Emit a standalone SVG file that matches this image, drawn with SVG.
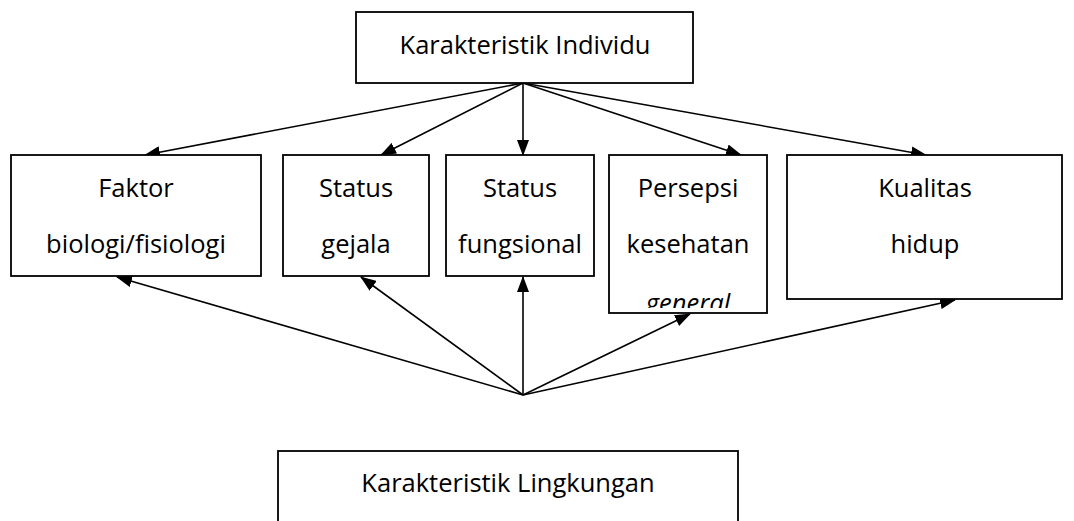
<svg xmlns="http://www.w3.org/2000/svg" width="1074" height="521" viewBox="0 0 1074 521">
<style>
.box{fill:#fff;stroke:#000;stroke-width:1.8}
.t{font-family:"Open Sans","Liberation Sans",sans-serif;font-size:25.5px;fill:#000;text-anchor:middle}
.c{stroke:#000;stroke-width:1.6;fill:none;marker-end:url(#ah)}
</style>
<defs>
<marker id="ah" markerUnits="userSpaceOnUse" markerWidth="16" markerHeight="12" refX="15" refY="6" orient="auto">
<path d="M0,0 L16,6 L0,12 Z" fill="#000"/>
</marker>
<clipPath id="clipP"><rect x="609" y="155" width="158" height="153"/></clipPath>
</defs>
<rect width="1074" height="521" fill="#fff"/>
<g id="connectors">
<line class="c" x1="523" y1="83" x2="145" y2="155"/>
<line class="c" x1="523" y1="83" x2="381" y2="155"/>
<line class="c" x1="523" y1="83" x2="523" y2="155"/>
<line class="c" x1="523" y1="83" x2="741" y2="155"/>
<line class="c" x1="523" y1="83" x2="926" y2="155"/>
<line class="c" x1="523" y1="395" x2="117" y2="277"/>
<line class="c" x1="523" y1="395" x2="361" y2="277"/>
<line class="c" x1="523" y1="395" x2="523" y2="277"/>
<line class="c" x1="523" y1="395" x2="690" y2="314"/>
<line class="c" x1="523" y1="395" x2="955" y2="300"/>
</g>
<g id="karakteristik-individu">
<rect class="box" x="356" y="12" width="337" height="71"/>
<text class="t" x="525" y="54">Karakteristik Individu</text>
</g>
<g id="faktor">
<rect class="box" x="11" y="155" width="250" height="121"/>
<text class="t" x="136" y="197">Faktor</text>
<text class="t" x="136" y="253">biologi/fisiologi</text>
</g>
<g id="status-gejala">
<rect class="box" x="283" y="155" width="146" height="121"/>
<text class="t" x="356" y="197">Status</text>
<text class="t" x="356" y="253">gejala</text>
</g>
<g id="status-fungsional">
<rect class="box" x="446" y="155" width="148" height="121"/>
<text class="t" x="520" y="197">Status</text>
<text class="t" x="520" y="253">fungsional</text>
</g>
<g id="persepsi">
<rect class="box" x="609" y="155" width="158" height="158"/>
<text class="t" x="688" y="197">Persepsi</text>
<text class="t" x="688" y="253">kesehatan</text>
<text class="t" x="688" y="312" font-style="italic" clip-path="url(#clipP)">general</text>
</g>
<g id="kualitas">
<rect class="box" x="787" y="155" width="275" height="144"/>
<text class="t" x="925" y="197">Kualitas</text>
<text class="t" x="925" y="253">hidup</text>
</g>
<g id="karakteristik-lingkungan">
<rect class="box" x="278" y="451" width="460" height="90"/>
<text class="t" x="508" y="492">Karakteristik Lingkungan</text>
</g>
</svg>
